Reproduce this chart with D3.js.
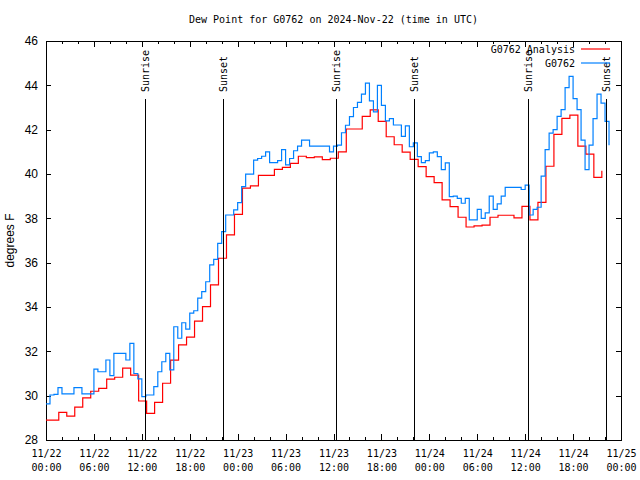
<!DOCTYPE html>
<html>
<head>
<meta charset="utf-8">
<script src="https://cdn.jsdelivr.net/npm/d3@7"></script>
<style>
  html, body { margin: 0; padding: 0; background: #fff; }
  svg { display: block; }
  .mono { font-family: "DejaVu Sans Mono", monospace; font-size: 10px; }
  .sans { font-family: "Liberation Sans", Arial, sans-serif; font-size: 12px; }
</style>
</head>
<body>
<svg id="chart" width="640" height="480"></svg>
<script>
// ---------------- data ----------------
const titleText = "Dew Point for G0762 on 2024-Nov-22 (time in UTC)";
const yLabel = "degrees F";
const seriesNames = ["G0762 Analysis", "G0762"];
const seriesColors = ["#ff0000", "#0080ff"];

const xStart = "2024-11-22T00:00";
const xEnd = "2024-11-25T00:00";
const yTicks = [28, 30, 32, 34, 36, 38, 40, 42, 44, 46];

// analysis (hourly values, each value changes at hh:36)
const analysisStart = "2024-11-22T00:00";
const analysisValues = [
  28.9, 28.9, 29.25, 29.08, 29.48, 29.9, 30.2, 30.33, 30.75, 30.83,
  31.24, 30.93, 29.76, 29.2, 29.7, 30.56, 31.6, 32.29, 32.64, 33.36,
  34.02, 35.0, 36.2, 37.25, 38.18, 39.36, 39.46, 39.94, 39.94, 40.21,
  40.3, 40.48, 40.8, 40.74, 40.77, 40.65, 40.71, 41.0, 42.03, 42.03,
  42.6, 42.89, 42.37, 41.68, 41.32, 40.99, 40.66, 40.33, 39.88, 39.61,
  38.83, 38.53, 38.05, 37.61, 37.66, 37.69, 38.05, 38.14, 38.14, 38.02,
  38.54, 37.93, 38.72, 40.35, 41.79, 42.51, 42.66, 41.26, 40.9, 39.85,
  40.15
];

// observations (every 30 minutes)
const obsStart = "2024-11-22T00:00";
const obsValues = [
  29.63, 30.03, 30.06, 30.36, 30.08, 30.08, 30.08, 30.36, 30.36, 30.08,
  30.08, 30.08, 31.2, 31.08, 31.08, 31.61, 30.9, 31.91, 31.91, 31.91,
  31.61, 32.36, 31.0, 30.76, 29.96, 30.03, 30.03, 30.41, 31.08, 31.53,
  31.91, 31.16, 33.11, 32.59, 33.29, 33.0, 33.72, 33.83, 34.4, 34.69,
  35.14, 35.9, 36.15, 36.87, 37.4, 38.15, 38.15, 38.38, 38.71, 39.43,
  39.99, 39.99, 40.63, 40.7, 40.8, 41.0, 40.51, 40.51, 40.6, 41.1,
  40.41, 40.7, 41.05, 41.26, 41.53, 41.53, 41.26, 41.26, 41.26, 41.26,
  41.26, 41.0, 41.26, 41.3, 41.86, 42.2, 42.59, 43.0, 43.23, 43.6,
  44.1, 43.3, 42.8, 44.0, 43.1, 42.4, 42.5, 42.21, 42.21, 41.7,
  42.17, 41.23, 41.4, 40.78, 40.51, 40.6, 40.95, 41.0, 40.78, 40.2,
  40.5, 38.98, 39.0, 38.9, 38.68, 38.9, 37.93, 37.93, 38.4, 38.0,
  38.25, 39.0, 38.4, 38.65, 39.0, 39.4, 39.4, 39.4, 39.4, 39.3,
  39.5, 38.15, 38.4, 38.5, 39.9, 41.1, 41.84, 42.0, 42.6, 42.9,
  43.9, 44.4, 43.4, 42.9, 41.53, 40.2, 41.3, 42.5, 43.6, 43.2,
  42.37, 41.3
];

const sunEvents = [
  { label: "Sunrise", time: "2024-11-22T12:22" },
  { label: "Sunset",  time: "2024-11-22T22:08" },
  { label: "Sunrise", time: "2024-11-23T12:22" },
  { label: "Sunset",  time: "2024-11-23T22:04" },
  { label: "Sunrise", time: "2024-11-24T12:19" },
  { label: "Sunset",  time: "2024-11-24T22:05" }
];

// ---------------- chart ----------------
const parse = d3.utcParse("%Y-%m-%dT%H:%M");
const HOUR = 3600 * 1000;
const M = { left: 46, right: 621, top: 41, bottom: 440 };

const x = d3.scaleUtc().domain([parse(xStart), parse(xEnd)]).range([M.left, M.right]);
const y = d3.scaleLinear().domain([28, 46]).range([M.bottom, M.top]);

const aStart = +parse(analysisStart);
const analysis = analysisValues.map((v, i) => ({
  t: new Date(i === 0 ? aStart : aStart + (i - 0.4) * HOUR), v
}));
const oStart = +parse(obsStart);
const obs = obsValues.map((v, i) => ({ t: new Date(oStart + i * 0.5 * HOUR), v }));

const svg = d3.select("#chart");

svg.append("text").attr("class", "mono")
  .attr("x", (M.left + M.right) / 2).attr("y", 23)
  .attr("text-anchor", "middle").text(titleText);

svg.append("defs").append("clipPath").attr("id", "clip")
  .append("rect").attr("x", M.left).attr("y", M.top)
  .attr("width", M.right - M.left).attr("height", M.bottom - M.top);

// ticks
const majorTicks = d3.utcHour.every(6).range(parse(xStart), new Date(+parse(xEnd) + 1));
const minorTicks = d3.utcHour.every(2).range(parse(xStart), new Date(+parse(xEnd) + 1))
  .filter(d => d.getUTCHours() % 6 !== 0);

function styleAxis(g) {
  g.select(".domain").remove();
  g.selectAll(".tick line").attr("stroke", "#000").attr("shape-rendering", "crispEdges");
}

const fmtDay = d3.utcFormat("%m/%d");
const fmtTime = d3.utcFormat("%H:%M");

const gx = svg.append("g").attr("transform", `translate(0,${M.bottom})`)
  .call(d3.axisBottom(x).tickValues(majorTicks).tickSize(-6).tickFormat(() => ""))
  .call(styleAxis);
gx.selectAll(".tick text").remove();
gx.selectAll(".tick").each(function(d) {
  const t = d3.select(this).append("text").attr("class", "mono")
    .attr("fill", "#000").attr("text-anchor", "middle");
  t.append("tspan").attr("x", 0).attr("y", 17).text(fmtDay(d));
  t.append("tspan").attr("x", 0).attr("y", 31).text(fmtTime(d));
});
svg.append("g").attr("transform", `translate(0,${M.bottom})`)
  .call(d3.axisBottom(x).tickValues(minorTicks).tickSize(-3).tickFormat(() => ""))
  .call(styleAxis);
svg.append("g").attr("transform", `translate(0,${M.top})`)
  .call(d3.axisTop(x).tickValues(majorTicks).tickSize(-6).tickFormat(() => ""))
  .call(styleAxis);
svg.append("g").attr("transform", `translate(0,${M.top})`)
  .call(d3.axisTop(x).tickValues(minorTicks).tickSize(-3).tickFormat(() => ""))
  .call(styleAxis);

const gy = svg.append("g").attr("transform", `translate(${M.left},0)`)
  .call(d3.axisLeft(y).tickValues(yTicks).tickSize(-5).tickPadding(8).tickFormat(d3.format("d")))
  .call(styleAxis);
gy.selectAll(".tick text").attr("class", "sans").attr("fill", "#000")
  .style("font-family", '"Liberation Sans", Arial, sans-serif').style("font-size", "12px");
svg.append("g").attr("transform", `translate(${M.right},0)`)
  .call(d3.axisRight(y).tickValues(yTicks).tickSize(-5).tickFormat(() => ""))
  .call(styleAxis);

// frame
svg.append("rect").attr("x", M.left + 0.5).attr("y", M.top + 0.5)
  .attr("width", M.right - M.left).attr("height", M.bottom - M.top)
  .attr("fill", "none").attr("stroke", "#000").attr("stroke-width", 1)
  .attr("shape-rendering", "crispEdges");

// y label
svg.append("text").attr("class", "sans")
  .attr("transform", `translate(10,${(M.top + M.bottom) / 2}) rotate(-90)`)
  .attr("text-anchor", "middle").attr("dy", "0.35em").text(yLabel);

// lines
const line = d3.line().x(d => x(d.t)).y(d => y(d.v)).curve(d3.curveStepAfter);
const plot = svg.append("g").attr("clip-path", "url(#clip)");
plot.append("path").datum(analysis).attr("d", line)
  .attr("fill", "none").attr("stroke", seriesColors[0]).attr("stroke-width", 1.2);
plot.append("path").datum(obs).attr("d", line)
  .attr("fill", "none").attr("stroke", seriesColors[1]).attr("stroke-width", 1.2);

// sun events
const sg = svg.append("g");
sunEvents.forEach(e => {
  const xx = Math.round(x(parse(e.time))) + 0.5;
  sg.append("line").attr("x1", xx).attr("x2", xx).attr("y1", 99).attr("y2", M.bottom)
    .attr("stroke", "#000").attr("stroke-width", 1);
  sg.append("text").attr("class", "mono")
    .attr("transform", `translate(${xx},92) rotate(-90)`)
    .attr("text-anchor", "start").attr("dy", "0.35em").text(e.label);
});

// legend
const lg = svg.append("g");
seriesNames.forEach((name, i) => {
  const yy = 49 + i * 14;
  lg.append("text").attr("class", "mono").attr("x", 575).attr("y", yy)
    .attr("dy", "0.35em").attr("text-anchor", "end").text(name);
  lg.append("line").attr("x1", 581).attr("x2", 610).attr("y1", yy).attr("y2", yy)
    .attr("stroke", seriesColors[i]).attr("stroke-width", 1.2);
});
</script>
</body>
</html>
